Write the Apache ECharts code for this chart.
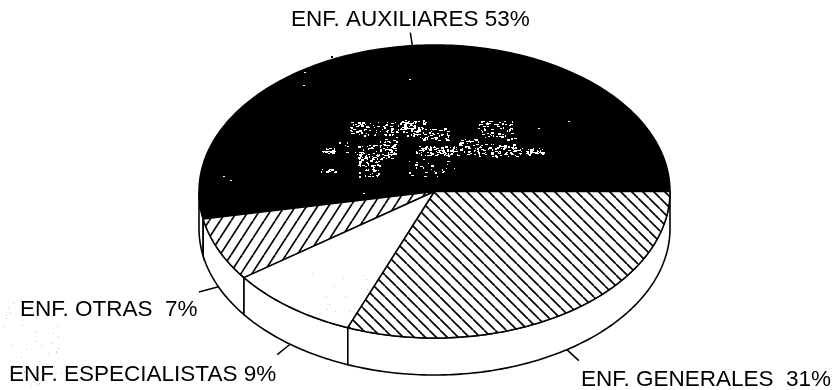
<!DOCTYPE html>
<html>
<head>
<meta charset="utf-8">
<style>html,body{margin:0;padding:0;background:#fff}#chart{width:835px;height:390px}</style>
<script src="https://cdn.jsdelivr.net/npm/echarts@6/dist/echarts.min.js"></script>
</head>
<body>
<div id="chart"></div>
<script>
// Staff mix of the nursing service, shown as a tilted pie.
const categories = ['ENF. AUXILIARES', 'ENF. OTRAS', 'ENF. ESPECIALISTAS', 'ENF. GENERALES'];
const shares = [53, 7, 9, 31];
const tickLabels = ['ENF. AUXILIARES 53%', 'ENF. OTRAS  7%', 'ENF. ESPECIALISTAS 9%', 'ENF. GENERALES  31%'];

// Disc geometry, in pixels.
const disc = { cx: 434.5, cy: 191.5, rx: 235.5, ry: 146.5, depth: 37, leader: 1.09 };
const labelAnchors = [[291, 20], [20, 309.5], [9, 375], [581, 379.5]];
const FONT = '22.5px "Liberation Sans", Arial, sans-serif';

function hatch(dx, dy, rising) {
  const c = document.createElement('canvas');
  c.width = dx; c.height = dy;
  const g = c.getContext('2d');
  g.fillStyle = '#fff'; g.fillRect(0, 0, dx, dy);
  g.strokeStyle = '#000'; g.lineWidth = 1.7;
  for (const k of [-1, 0, 1]) {
    g.beginPath();
    if (rising) { g.moveTo(k * dx, dy); g.lineTo(k * dx + dx, 0); }
    else { g.moveTo(k * dx, 0); g.lineTo(k * dx + dx, dy); }
    g.stroke();
  }
  return c;
}

const fills = [
  '#000',
  { image: hatch(11, 17, true), repeat: 'repeat' },
  '#fff',
  { image: hatch(11, 11, false), repeat: 'repeat' }
];

// Scanner speckle: clumped white grains over the dark slice, a few faint ones on paper.
function speckle() {
  const c = document.createElement('canvas');
  c.width = 835; c.height = 390;
  const g = c.getContext('2d');
  let seed = 7291;
  const rnd = () => (seed = (seed * 16807) % 2147483647) / 2147483647;
  const white = [
    [350, 122, 70, 13, 110], [400, 120, 25, 10, 45], [420, 128, 28, 12, 50], [478, 121, 36, 18, 60],
    [355, 145, 40, 14, 80], [380, 137, 16, 20, 40], [357, 158, 22, 18, 45], [415, 146, 42, 9, 85],
    [458, 138, 20, 16, 40], [478, 144, 40, 12, 70], [512, 148, 34, 7, 40], [408, 158, 30, 18, 18],
    [322, 148, 12, 5, 14], [321, 169, 14, 4, 14], [440, 160, 14, 14, 8], [338, 142, 10, 12, 6]
  ];
  g.fillStyle = '#fff';
  for (const [x, y, w, h, n] of white) {
    for (let i = 0; i < n; i++) {
      const r = rnd();
      const sw = r < 0.25 ? 3 : r < 0.6 ? 2 : 1;
      const sh = rnd() < 0.25 ? 2 : 1;
      g.fillRect(Math.round(x + rnd() * w), Math.round(y + rnd() * h), sw, sh);
    }
  }
  const stray = [[304, 72], [303, 85], [409, 79], [538, 128], [568, 121], [223, 176], [363, 193], [230, 180]];
  for (const [x, y] of stray) g.fillRect(x, y, 2, 1);
  const faint = [[2, 300, 60, 85, 45], [305, 265, 70, 50, 14]];
  g.fillStyle = 'rgba(120,120,120,0.4)';
  for (const [x, y, w, h, n] of faint) {
    for (let i = 0; i < n; i++) g.fillRect(Math.round(x + rnd() * w), Math.round(y + rnd() * h), 1, 1);
  }
  g.fillStyle = '#000';
  g.fillRect(331, 56, 2, 2);
  return c;
}

const total = shares.reduce((a, b) => a + b, 0);
const at = (deg, lift, scale) => {
  const t = deg * Math.PI / 180, k = scale || 1;
  return [disc.cx + disc.rx * k * Math.cos(t), disc.cy - disc.ry * k * Math.sin(t) + (lift || 0)];
};
const arc = (from, to, lift) => {
  const pts = [], n = Math.max(2, Math.ceil(Math.abs(to - from)));
  for (let i = 0; i <= n; i++) pts.push(at(from + (to - from) * i / n, lift));
  return pts;
};

function renderSlice(params, api) {
  const i = params.dataIndex;
  const before = shares.slice(0, i).reduce((a, b) => a + b, 0);
  const a0 = before / total * 360;
  const a1 = a0 + api.value(1) / total * 360;
  const children = [];

  // Wall of the disc, only on the near half.
  const w0 = Math.max(a0, 180), w1 = Math.min(a1, 360);
  if (w1 > w0) {
    children.push({
      type: 'polygon',
      shape: { points: arc(w0, w1, 0).concat(arc(w1, w0, disc.depth)) },
      style: { fill: '#fff', stroke: '#000', lineWidth: 1.6 }
    });
  }

  // Top face of the slice.
  children.push({
    type: 'polygon',
    shape: { points: [[disc.cx, disc.cy]].concat(arc(a0, a1, 0)) },
    style: { fill: fills[i], stroke: '#000', lineWidth: 1.5, lineJoin: 'round' }
  });

  // Leader from the rim at the slice's mid-angle.
  const mid = (a0 + a1) / 2;
  const lift = mid > 180 ? disc.depth : 0;
  const p = at(mid, lift), q = at(mid, lift, disc.leader);
  children.push({
    type: 'line',
    shape: { x1: p[0], y1: p[1], x2: q[0], y2: q[1] },
    style: { stroke: '#000', lineWidth: 1.5 }
  });

  children.push({
    type: 'text',
    style: {
      text: tickLabels[i], x: labelAnchors[i][0], y: labelAnchors[i][1],
      font: FONT, fill: '#000', textAlign: 'left', textVerticalAlign: 'middle'
    }
  });
  return { type: 'group', children };
}

const chart = echarts.init(document.getElementById('chart'), null, { renderer: 'canvas' });
chart.setOption({
  animation: false,
  backgroundColor: '#fff',
  series: [{
    type: 'custom',
    coordinateSystem: 'none',
    silent: true,
    renderItem: renderSlice,
    data: categories.map((name, i) => ({ name, value: [i, shares[i]] }))
  }],
  graphic: [{
    type: 'image', x: 0, y: 0, z: 10, silent: true,
    style: { image: speckle(), x: 0, y: 0, width: 835, height: 390 }
  }]
});
</script>
</body>
</html>
